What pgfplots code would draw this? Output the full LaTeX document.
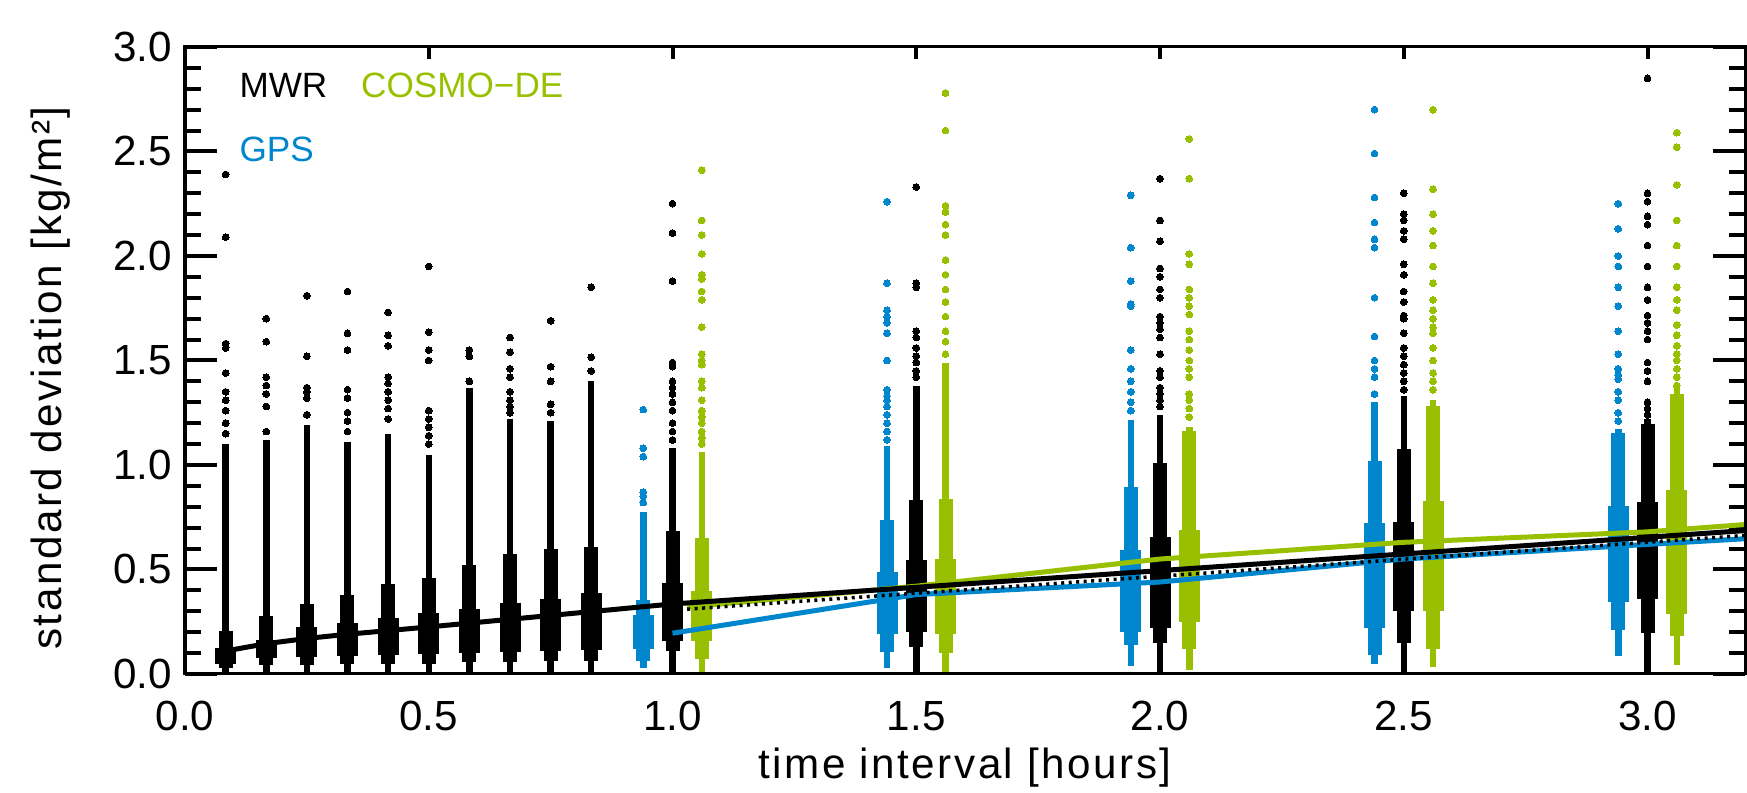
\documentclass[border=0pt]{standalone}
\usepackage{fontspec}
\setmainfont{Liberation Sans}
\usepackage{pgfplots}
\pgfplotsset{compat=1.18}
\definecolor{gpsblue}{RGB}{0,134,204}
\definecolor{cosmogreen}{RGB}{153,192,0}
\begin{document}
\begin{tikzpicture}
\begin{axis}[
  name=ax, scale only axis, width=156mm, height=62.7mm,
  xmin=0, xmax=3.2, ymin=0, ymax=3.0,
  xtick=\empty,
  ytick={0,0.5,1,1.5,2,2.5,3},
  minor ytick={0.1,0.2,0.3,0.4,0.6,0.7,0.8,0.9,1.1,1.2,1.3,1.4,1.6,1.7,1.8,1.9,2.1,2.2,2.3,2.4,2.6,2.7,2.8,2.9},
  major tick length=3.2mm, minor tick length=1.6mm,
  every tick/.style={black, line width=0.4mm},
  every axis/.append style={line width=0.3mm},
  yticklabel style={font=\fontsize{12}{14}\selectfont, /pgf/number format/fixed, /pgf/number format/fixed zerofill, /pgf/number format/precision=1, /pgf/number format/assume math mode=true},
  xlabel={time interval [hours]},
  ylabel={standard deviation [kg/m²]},
  label style={font=\fontsize{12}{14}\selectfont\addfontfeature{LetterSpace=6}},
  xlabel style={at={(axis description cs:0.5,-0.15)}, anchor=center},
  ylabel style={at={(axis description cs:-0.086,0.472)}, anchor=center},
]
% ---------- MWR (black) ----------
\addplot[black, line width=0.65mm, forget plot, unbounded coords=jump] coordinates {
(0.0833,0)(0.0833,1.10)(0.0833,nan)
(0.1667,0.01)(0.1667,1.12)(0.1667,nan)
(0.25,0.01)(0.25,1.19)(0.25,nan)
(0.3333,0.01)(0.3333,1.11)(0.3333,nan)
(0.4167,0.01)(0.4167,1.15)(0.4167,nan)
(0.5,0.01)(0.5,1.05)(0.5,nan)
(0.5833,0.01)(0.5833,1.37)(0.5833,nan)
(0.6667,0.01)(0.6667,1.22)(0.6667,nan)
(0.75,0.01)(0.75,1.21)(0.75,nan)
(0.8333,0.01)(0.8333,1.40)(0.8333,nan)
(1,0)(1,1.08)(1,nan)
(1.5,0)(1.5,1.38)(1.5,nan)
(2,0)(2,1.24)(2,nan)
(2.5,0)(2.5,1.33)(2.5,nan)
(3,0)(3,1.22)};
\addplot[black, line width=1.4mm, forget plot, unbounded coords=jump] coordinates {
(0.0833,0.03)(0.0833,0.205)(0.0833,nan)
(0.1667,0.045)(0.1667,0.277)(0.1667,nan)
(0.25,0.045)(0.25,0.334)(0.25,nan)
(0.3333,0.05)(0.3333,0.38)(0.3333,nan)
(0.4167,0.05)(0.4167,0.43)(0.4167,nan)
(0.5,0.05)(0.5,0.46)(0.5,nan)
(0.5833,0.055)(0.5833,0.52)(0.5833,nan)
(0.6667,0.055)(0.6667,0.573)(0.6667,nan)
(0.75,0.06)(0.75,0.60)(0.75,nan)
(0.8333,0.06)(0.8333,0.608)(0.8333,nan)
(1,0.11)(1,0.683)(1,nan)
(1.5,0.13)(1.5,0.833)(1.5,nan)
(2,0.15)(2,1.01)(2,nan)
(2.5,0.15)(2.5,1.078)(2.5,nan)
(3,0.195)(3,1.194)};
\addplot[black, line width=2.1mm, forget plot, unbounded coords=jump] coordinates {
(0.0833,0.05)(0.0833,0.123)(0.0833,nan)
(0.1667,0.075)(0.1667,0.162)(0.1667,nan)
(0.25,0.08)(0.25,0.223)(0.25,nan)
(0.3333,0.085)(0.3333,0.245)(0.3333,nan)
(0.4167,0.09)(0.4167,0.27)(0.4167,nan)
(0.5,0.095)(0.5,0.29)(0.5,nan)
(0.5833,0.10)(0.5833,0.31)(0.5833,nan)
(0.6667,0.105)(0.6667,0.34)(0.6667,nan)
(0.75,0.11)(0.75,0.36)(0.75,nan)
(0.8333,0.115)(0.8333,0.389)(0.8333,nan)
(1,0.16)(1,0.436)(1,nan)
(1.5,0.2)(1.5,0.545)(1.5,nan)
(2,0.22)(2,0.656)(2,nan)
(2.5,0.3)(2.5,0.728)(2.5,nan)
(3,0.36)(3,0.823)};
\addplot[black, only marks, mark=*, mark size=0.34mm, mark options={draw=black, fill=black, line width=0pt}, forget plot] coordinates {
(0.0833,2.39)(0.0833,2.09)(0.0833,1.58)(0.0833,1.56)(0.0833,1.44)(0.0833,1.35)(0.0833,1.31)(0.0833,1.26)(0.0833,1.20)(0.0833,1.15)
(0.1667,1.70)(0.1667,1.59)(0.1667,1.42)(0.1667,1.38)(0.1667,1.34)(0.1667,1.28)(0.1667,1.16)
(0.25,1.81)(0.25,1.52)(0.25,1.37)(0.25,1.35)(0.25,1.32)(0.25,1.24)
(0.3333,1.83)(0.3333,1.63)(0.3333,1.55)(0.3333,1.36)(0.3333,1.32)(0.3333,1.25)(0.3333,1.21)(0.3333,1.16)
(0.4167,1.73)(0.4167,1.62)(0.4167,1.57)(0.4167,1.42)(0.4167,1.39)(0.4167,1.35)(0.4167,1.31)(0.4167,1.27)(0.4167,1.22)
(0.5,1.95)(0.5,1.635)(0.5,1.55)(0.5,1.50)(0.5,1.26)(0.5,1.22)(0.5,1.18)(0.5,1.14)(0.5,1.10)
(0.5833,1.55)(0.5833,1.52)(0.5833,1.40)
(0.6667,1.61)(0.6667,1.54)(0.6667,1.46)(0.6667,1.42)(0.6667,1.35)(0.6667,1.31)(0.6667,1.28)(0.6667,1.25)
(0.75,1.69)(0.75,1.47)(0.75,1.40)(0.75,1.29)(0.75,1.25)
(0.8333,1.85)(0.8333,1.516)(0.8333,1.45)
(1,2.25)(1,2.11)(1,1.88)(1,1.49)(1,1.47)(1,1.40)(1,1.37)(1,1.34)(1,1.30)(1,1.26)(1,1.20)(1,1.16)(1,1.12)
(1.5,2.33)(1.5,1.87)(1.5,1.85)(1.5,1.64)(1.5,1.61)(1.5,1.56)(1.5,1.52)(1.5,1.49)(1.5,1.45)(1.5,1.42)
(2,2.37)(2,2.17)(2,2.07)(2,1.94)(2,1.90)(2,1.84)(2,1.80)(2,1.71)(2,1.68)(2,1.65)(2,1.61)(2,1.53)(2,1.45)(2,1.42)(2,1.37)(2,1.34)(2,1.31)(2,1.28)
(2.5,2.30)(2.5,2.20)(2.5,2.17)(2.5,2.12)(2.5,2.08)(2.5,1.96)(2.5,1.91)(2.5,1.83)(2.5,1.78)(2.5,1.715)(2.5,1.70)(2.5,1.63)(2.5,1.56)(2.5,1.52)(2.5,1.48)(2.5,1.44)(2.5,1.40)(2.5,1.36)
(3,2.85)(3,2.30)(3,2.26)(3,2.19)(3,2.15)(3,2.05)(3,1.95)(3,1.85)(3,1.79)(3,1.715)(3,1.68)(3,1.64)(3,1.60)(3,1.49)(3,1.45)(3,1.40)(3,1.30)(3,1.27)(3,1.24)};
% ---------- GPS (blue) ----------
\addplot[gpsblue, line width=0.65mm, forget plot, unbounded coords=jump] coordinates {
(0.94,0.03)(0.94,0.775)(0.94,nan)
(1.44,0.03)(1.44,1.09)(1.44,nan)
(1.94,0.04)(1.94,1.214)(1.94,nan)
(2.44,0.05)(2.44,1.30)(2.44,nan)
(2.94,0.086)(2.94,1.17)};
\addplot[gpsblue, line width=1.4mm, forget plot, unbounded coords=jump] coordinates {
(0.94,0.06)(0.94,0.354)(0.94,nan)
(1.44,0.105)(1.44,0.736)(1.44,nan)
(1.94,0.14)(1.94,0.895)(1.94,nan)
(2.44,0.09)(2.44,1.018)(2.44,nan)
(2.94,0.21)(2.94,1.153)};
\addplot[gpsblue, line width=2.1mm, forget plot, unbounded coords=jump] coordinates {
(0.94,0.12)(0.94,0.28)(0.94,nan)
(1.44,0.19)(1.44,0.489)(1.44,nan)
(1.94,0.2)(1.94,0.592)(1.94,nan)
(2.44,0.22)(2.44,0.72)(2.44,nan)
(2.94,0.344)(2.94,0.803)};
\addplot[gpsblue, only marks, mark=*, mark size=0.34mm, mark options={draw=gpsblue, fill=gpsblue, line width=0pt}, forget plot] coordinates {
(0.94,1.265)(0.94,1.08)(0.94,1.04)(0.94,0.87)(0.94,0.85)(0.94,0.82)
(1.44,2.26)(1.44,1.87)(1.44,1.74)(1.44,1.71)(1.44,1.68)(1.44,1.63)(1.44,1.50)(1.44,1.36)(1.44,1.33)(1.44,1.31)(1.44,1.28)(1.44,1.24)(1.44,1.20)(1.44,1.16)(1.44,1.12)
(1.94,2.29)(1.94,2.04)(1.94,1.88)(1.94,1.77)(1.94,1.76)(1.94,1.55)(1.94,1.46)(1.94,1.40)(1.94,1.35)(1.94,1.30)(1.94,1.26)
(2.44,2.70)(2.44,2.49)(2.44,2.28)(2.44,2.16)(2.44,2.08)(2.44,2.04)(2.44,1.80)(2.44,1.615)(2.44,1.50)(2.44,1.46)(2.44,1.42)(2.44,1.34)
(2.94,2.25)(2.94,2.13)(2.94,2.00)(2.94,1.95)(2.94,1.85)(2.94,1.76)(2.94,1.64)(2.94,1.53)(2.94,1.46)(2.94,1.43)(2.94,1.41)(2.94,1.35)(2.94,1.31)(2.94,1.25)(2.94,1.21)};
% ---------- COSMO-DE (green) ----------
\addplot[cosmogreen, line width=0.65mm, forget plot, unbounded coords=jump] coordinates {
(1.06,0)(1.06,1.06)(1.06,nan)
(1.56,0)(1.56,1.49)(1.56,nan)
(2.06,0.02)(2.06,1.18)(2.06,nan)
(2.56,0.035)(2.56,1.31)(2.56,nan)
(3.06,0.045)(3.06,1.37)};
\addplot[cosmogreen, line width=1.4mm, forget plot, unbounded coords=jump] coordinates {
(1.06,0.07)(1.06,0.651)(1.06,nan)
(1.56,0.10)(1.56,0.838)(1.56,nan)
(2.06,0.12)(2.06,1.161)(2.06,nan)
(2.56,0.12)(2.56,1.28)(2.56,nan)
(3.06,0.18)(3.06,1.34)};
\addplot[cosmogreen, line width=2.1mm, forget plot, unbounded coords=jump] coordinates {
(1.06,0.16)(1.06,0.398)(1.06,nan)
(1.56,0.19)(1.56,0.55)(1.56,nan)
(2.06,0.25)(2.06,0.69)(2.06,nan)
(2.56,0.30)(2.56,0.828)(2.56,nan)
(3.06,0.285)(3.06,0.879)};
\addplot[cosmogreen, only marks, mark=*, mark size=0.34mm, mark options={draw=cosmogreen, fill=cosmogreen, line width=0pt}, forget plot] coordinates {
(1.06,2.41)(1.06,2.17)(1.06,2.10)(1.06,2.01)(1.06,1.91)(1.06,1.89)(1.06,1.83)(1.06,1.79)(1.06,1.66)(1.06,1.53)(1.06,1.50)(1.06,1.48)(1.06,1.40)(1.06,1.37)(1.06,1.31)(1.06,1.26)(1.06,1.23)(1.06,1.20)(1.06,1.16)(1.06,1.13)(1.06,1.10)
(1.56,2.78)(1.56,2.60)(1.56,2.24)(1.56,2.21)(1.56,2.15)(1.56,2.10)(1.56,1.98)(1.56,1.91)(1.56,1.84)(1.56,1.78)(1.56,1.71)(1.56,1.64)(1.56,1.59)(1.56,1.53)
(2.06,2.56)(2.06,2.37)(2.06,2.01)(2.06,1.96)(2.06,1.84)(2.06,1.80)(2.06,1.76)(2.06,1.72)(2.06,1.64)(2.06,1.60)(2.06,1.55)(2.06,1.50)(2.06,1.46)(2.06,1.42)(2.06,1.34)(2.06,1.31)(2.06,1.27)(2.06,1.23)
(2.56,2.70)(2.56,2.32)(2.56,2.20)(2.56,2.12)(2.56,2.05)(2.56,1.95)(2.56,1.87)(2.56,1.79)(2.56,1.74)(2.56,1.70)(2.56,1.66)(2.56,1.63)(2.56,1.56)(2.56,1.50)(2.56,1.44)(2.56,1.40)(2.56,1.36)
(3.06,2.59)(3.06,2.52)(3.06,2.34)(3.06,2.17)(3.06,2.05)(3.06,1.95)(3.06,1.85)(3.06,1.79)(3.06,1.74)(3.06,1.67)(3.06,1.62)(3.06,1.57)(3.06,1.53)(3.06,1.50)(3.06,1.46)(3.06,1.42)(3.06,1.38)};
% ---------- fit lines ----------
\addplot[cosmogreen, line width=0.5mm, forget plot] coordinates {
(1.03,0.32)(1.5,0.42)(2.0,0.55)(2.5,0.63)(3.0,0.68)(3.2,0.715)};
\addplot[gpsblue, line width=0.5mm, forget plot] coordinates {
(1.0,0.195)(1.5,0.38)(2.0,0.44)(2.5,0.55)(3.0,0.62)(3.2,0.647)};
\addplot[black, line width=0.5mm, forget plot] coordinates {
(0.0833,0.11)(0.1667,0.145)(0.25,0.17)(0.3333,0.19)(0.5,0.225)(0.75,0.28)(1.0,0.335)(3.2,0.686)};
\addplot[black, line width=0.35mm, dash pattern=on 0.3mm off 0.45mm, forget plot] coordinates {
(1.03,0.31)(3.2,0.663)};
% ---------- legend ----------
\node[anchor=west, inner sep=0pt, text=black, font=\fontsize{10}{12}\selectfont] at (axis description cs:0.034,0.938) {MWR};
\node[anchor=west, inner sep=0pt, text=cosmogreen, font=\fontsize{10}{12}\selectfont] at (axis description cs:0.112,0.938) {COSMO−DE};
\node[anchor=west, inner sep=0pt, text=gpsblue, font=\fontsize{10}{12}\selectfont] at (axis description cs:0.034,0.836) {GPS};
\end{axis}
% x ticks and their labels, with shorter tick marks
\begin{axis}[
  scale only axis, width=156mm, height=62.7mm,
  xmin=0, xmax=3.2, ymin=0, ymax=3.0,
  ytick=\empty,
  xtick={0,0.5,1,1.5,2,2.5,3},
  major tick length=1.2mm,
  every tick/.style={black, line width=0.4mm},
  every axis/.append style={line width=0.3mm},
  xticklabel style={yshift=-1.4mm, font=\fontsize{12}{14}\selectfont, /pgf/number format/fixed, /pgf/number format/fixed zerofill, /pgf/number format/precision=1, /pgf/number format/assume math mode=true},
]
\end{axis}
\pgfresetboundingbox
\path[use as bounding box] ([xshift=-18.5mm,yshift=-11.9mm]ax.south west) rectangle ([xshift=0.2mm,yshift=4.7mm]ax.north east);
\end{tikzpicture}
\end{document}
